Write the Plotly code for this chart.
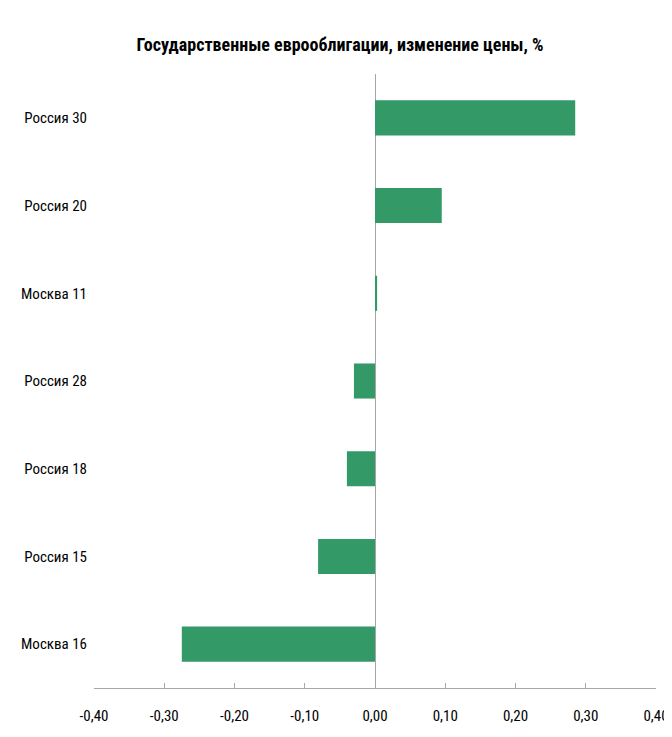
import plotly.graph_objects as go

# данные
bonds = ['Россия 30', 'Россия 20', 'Москва 11', 'Россия 28', 'Россия 18', 'Россия 15', 'Москва 16']
price_change = [0.285, 0.095, 0.003, -0.030, -0.040, -0.081, -0.275]
tick_vals = [-0.4, -0.3, -0.2, -0.1, 0.0, 0.1, 0.2, 0.3, 0.4]
tick_text = ['-0,40', '-0,30', '-0,20', '-0,10', '0,00', '0,10', '0,20', '0,30', '0,40']

font_name = 'Liberation Sans Narrow, Roboto Condensed, Liberation Sans, sans-serif'

# страница сдвигает фигуру на 8px (margin у body), поэтому всё на 8px меньше
fig = go.Figure()
fig.add_trace(go.Bar(x=price_change, y=bonds, orientation='h',
                     marker=dict(color='#339966', line=dict(width=0)),
                     width=0.4, showlegend=False))

fig.update_layout(
    width=664, height=729,
    margin=dict(l=86, r=16, t=66, b=49, autoexpand=False),
    paper_bgcolor='white', plot_bgcolor='white',
    font=dict(family=font_name, size=15, color='black'),
    title=dict(text='<b>Государственные еврооблигации, изменение цены, %</b>',
               x=0.5, xanchor='center', y=0.95, yanchor='middle',
               font=dict(family=font_name, size=18, color='black')),
    xaxis=dict(range=[-0.4, 0.4], tickvals=tick_vals, ticktext=tick_text,
               showgrid=False, zeroline=True, zerolinecolor='#a6a6a6', zerolinewidth=1,
               showline=True, linecolor='#a6a6a6', linewidth=1,
               ticks='inside', ticklen=5, tickcolor='#a6a6a6', automargin=False,
               tickfont=dict(size=15), ticklabelstandoff=14),
    yaxis=dict(categoryorder='array', categoryarray=bonds[::-1],
               showgrid=False, showline=False, ticks='', automargin=False,
               tickfont=dict(size=15), ticklabelstandoff=6),
    bargap=0.6,
)

fig.write_html('out.html')
